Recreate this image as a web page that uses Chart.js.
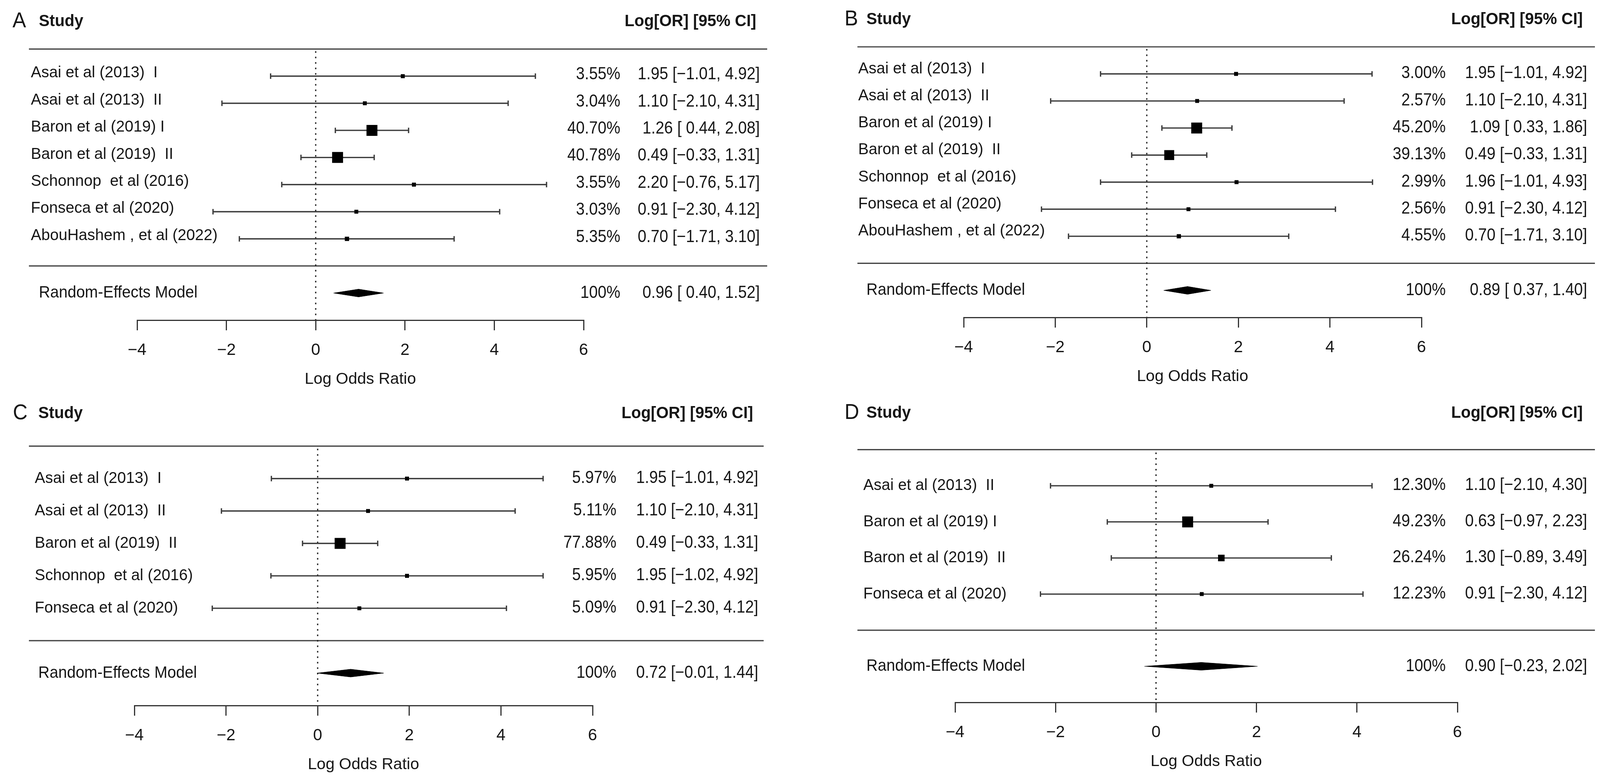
<!DOCTYPE html>
<html><head><meta charset="utf-8">
<script src="https://cdn.jsdelivr.net/npm/chart.js@4.4.1/dist/chart.umd.min.js"></script>
<style>
html,body{margin:0;padding:0;background:#fff;}
#wrap{position:relative;width:4113px;height:2008px;background:#fff;overflow:hidden;}
canvas{position:absolute;}
</style></head><body>
<div id="wrap">
<canvas id="cA" width="2056" height="1004" style="left:0px;top:0px;width:2056px;height:1004px"></canvas>
<canvas id="cB" width="2057" height="1004" style="left:2056px;top:0px;width:2057px;height:1004px"></canvas>
<canvas id="cC" width="2056" height="1004" style="left:0px;top:1004px;width:2056px;height:1004px"></canvas>
<canvas id="cD" width="2057" height="1004" style="left:2056px;top:1004px;width:2057px;height:1004px"></canvas>
</div>
<script>
// ---------- DATA ----------
const tickValues = [-4, -2, 0, 2, 4, 6];
const axisTitle = 'Log Odds Ratio';
const headerStudy = 'Study';
const headerEffect = 'Log[OR] [95% CI]';
const pooledLabel = 'Random-Effects Model';

const panelALetter = 'A';
const panelALabels = ['Asai et al (2013)  I', 'Asai et al (2013)  II', 'Baron et al (2019) I', 'Baron et al (2019)  II', 'Schonnop  et al (2016)', 'Fonseca et al (2020)', 'AbouHashem , et al (2022)'];
const panelAWeights = [3.55, 3.04, 40.70, 40.78, 3.55, 3.03, 5.35];
const panelAEst = [1.95, 1.10, 1.26, 0.49, 2.20, 0.91, 0.70];
const panelALower = [-1.01, -2.10, 0.44, -0.33, -0.76, -2.30, -1.71];
const panelAUpper = [4.92, 4.31, 2.08, 1.31, 5.17, 4.12, 3.10];
const panelAPooled = [0.96, 0.40, 1.52];

const panelBLetter = 'B';
const panelBLabels = ['Asai et al (2013)  I', 'Asai et al (2013)  II', 'Baron et al (2019) I', 'Baron et al (2019)  II', 'Schonnop  et al (2016)', 'Fonseca et al (2020)', 'AbouHashem , et al (2022)'];
const panelBWeights = [3.00, 2.57, 45.20, 39.13, 2.99, 2.56, 4.55];
const panelBEst = [1.95, 1.10, 1.09, 0.49, 1.96, 0.91, 0.70];
const panelBLower = [-1.01, -2.10, 0.33, -0.33, -1.01, -2.30, -1.71];
const panelBUpper = [4.92, 4.31, 1.86, 1.31, 4.93, 4.12, 3.10];
const panelBPooled = [0.89, 0.37, 1.40];

const panelCLetter = 'C';
const panelCLabels = ['Asai et al (2013)  I', 'Asai et al (2013)  II', 'Baron et al (2019)  II', 'Schonnop  et al (2016)', 'Fonseca et al (2020)'];
const panelCWeights = [5.97, 5.11, 77.88, 5.95, 5.09];
const panelCEst = [1.95, 1.10, 0.49, 1.95, 0.91];
const panelCLower = [-1.01, -2.10, -0.33, -1.02, -2.30];
const panelCUpper = [4.92, 4.31, 1.31, 4.92, 4.12];
const panelCPooled = [0.72, -0.01, 1.44];

const panelDLetter = 'D';
const panelDLabels = ['Asai et al (2013)  II', 'Baron et al (2019) I', 'Baron et al (2019)  II', 'Fonseca et al (2020)'];
const panelDWeights = [12.30, 49.23, 26.24, 12.23];
const panelDEst = [1.10, 0.63, 1.30, 0.91];
const panelDLower = [-2.10, -0.97, -0.89, -2.30];
const panelDUpper = [4.30, 2.23, 3.49, 4.12];
const panelDPooled = [0.90, -0.23, 2.02];

// ---------- LAYOUT (canvas-local pixels) ----------
const FONT = '"Liberation Sans", Arial, Helvetica, sans-serif';
const TXT = '#161616';
const LINE = '#3c3c3c';

const layoutA = {W:2056, H:1004, topY:125.6, axisY:820, left:351, right:1494, labelX:79, reX:99.5, pctR:1588, ciR:1945, ruleL:74, ruleR:1964, letterX:32, studyX:99.5, headR:1936, labOff:-8, numOff:-4};
const layoutB = {W:2057, H:1004, topY:120, axisY:813, left:411, right:1583, labelX:141, reX:162, pctR:1645, ciR:2007, ruleL:139, ruleR:2027, letterX:106, studyX:162, headR:1996, labOff:-13, numOff:-1};
const layoutC = {W:2056, H:1004, topY:138.7, axisY:803, left:344, right:1517, labelX:89, reX:98, pctR:1578, ciR:1941, ruleL:74, ruleR:1955, letterX:33, studyX:98, headR:1928, labOff:0, numOff:-1};
const layoutD = {W:2057, H:1004, topY:147.7, axisY:795, left:389, right:1675, labelX:154, reX:162, pctR:1645, ciR:2007, ruleL:139, ruleR:2027, letterX:106, studyX:162, headR:1996, labOff:0, numOff:-1};

function fmtNum(v){ return (v < 0 ? '\u2212' : '') + Math.abs(v).toFixed(2); }
function ciText(e, l, u){ return fmtNum(e) + ' [' + (l < 0 ? '' : ' ') + fmtNum(l) + ', ' + fmtNum(u) + ']'; }
function putText(ctx, s, x, y, align, sy) {
  ctx.save(); ctx.translate(x, y); ctx.scale(1, sy); ctx.textAlign = align; ctx.fillText(s, 0, 0); ctx.restore();
}

function buildPanel(id, letter, labels, weights, est, lower, upper, pooled, L) {
  const n = labels.length;
  const yMax = n + 3;
  const stepPx = (L.axisY - L.topY) / yMax;
  const datasets = [];
  // zero reference line
  datasets.push({data:[{x:0,y:0.08},{x:0,y:yMax}], showLine:true, borderColor:'#1e1e1e', borderWidth:3.2, borderDash:[4,10], pointRadius:0, order:10});
  // CI lines
  for (let i = 0; i < n; i++) {
    datasets.push({data:[{x:lower[i],y:i+1},{x:upper[i],y:i+1}], showLine:true, borderColor:LINE, borderWidth:3.4, pointRadius:0, order:5});
  }
  // caps
  const caps = [];
  for (let i = 0; i < n; i++) { caps.push({x:lower[i],y:i+1}); caps.push({x:upper[i],y:i+1}); }
  datasets.push({data:caps, showLine:false, pointStyle:'line', pointRotation:90, pointRadius:7, pointBorderWidth:3.4, pointBorderColor:LINE, pointBackgroundColor:LINE, order:4});
  // squares
  const wmin = Math.min(...weights), wmax = Math.max(...weights);
  datasets.push({data:est.map((v,i)=>({x:v,y:i+1})), showLine:false, pointStyle:'rect',
    pointRadius:weights.map(w => (10 + 18*(w-wmin)/(wmax-wmin)) / Math.SQRT2),
    pointBackgroundColor:'#000', pointBorderColor:'#000', pointBorderWidth:0, order:1});
  // pooled diamond
  const h = 10 / stepPx, r = n + 2;
  datasets.push({data:[{x:pooled[1],y:r},{x:pooled[0],y:r-h},{x:pooled[2],y:r},{x:pooled[0],y:r+h},{x:pooled[1],y:r}],
    showLine:true, fill:'shape', backgroundColor:'#000', borderColor:'#000', borderWidth:1, pointRadius:0, tension:0, order:1});

  const textPlugin = {
    id:'forestText'+id,
    beforeDatasetsDraw(chart) {
      const ctx = chart.ctx, ys = chart.scales.y;
      ctx.save();
      ctx.strokeStyle = '#444'; ctx.lineWidth = 3.2;
      for (const rr of [0, n+1]) {
        const py = ys.getPixelForValue(rr);
        ctx.beginPath(); ctx.moveTo(L.ruleL, py); ctx.lineTo(L.ruleR, py); ctx.stroke();
      }
      ctx.restore();
    },
    afterDraw(chart) {
      const ctx = chart.ctx, ys = chart.scales.y;
      ctx.save();
      ctx.fillStyle = TXT;
      ctx.textBaseline = 'middle';
      const hy = ys.getPixelForValue(-1) - 1;
      ctx.font = '52px ' + FONT; putText(ctx, letter, L.letterX, hy, 'left', 1.05);
      ctx.font = 'bold 41px ' + FONT; putText(ctx, headerStudy, L.studyX, hy, 'left', 1.05);
      putText(ctx, headerEffect, L.headR, hy, 'right', 1.05);
      ctx.font = '40px ' + FONT;
      for (let i = 0; i < n; i++) {
        const py = ys.getPixelForValue(i+1);
        putText(ctx, labels[i], L.labelX, py + L.labOff, 'left', 1.02);
        putText(ctx, weights[i].toFixed(2) + '%', L.pctR, py + L.numOff, 'right', 1.1);
        putText(ctx, ciText(est[i], lower[i], upper[i]), L.ciR, py + L.numOff, 'right', 1.1);
      }
      const pr = ys.getPixelForValue(n+2);
      putText(ctx, pooledLabel, L.reX, pr, 'left', 1.05);
      putText(ctx, '100%', L.pctR, pr, 'right', 1.1);
      putText(ctx, ciText(pooled[0], pooled[1], pooled[2]), L.ciR, pr, 'right', 1.1);
      ctx.restore();
    }
  };

  return new Chart(document.getElementById(id), {
    type:'scatter',
    data:{datasets},
    plugins:[textPlugin],
    options:{
      responsive:false, animation:false, devicePixelRatio:1,
      layout:{padding:{left:L.left, right:L.W - L.right, top:L.topY, bottom:L.H - L.axisY - 178}},
      plugins:{legend:{display:false}, tooltip:{enabled:false}, title:{display:false}},
      elements:{line:{tension:0}},
      scales:{
        x:{type:'linear', min:-4, max:6, position:'bottom',
          afterBuildTicks:(s)=>{ s.ticks = tickValues.map(v=>({value:v})); },
          ticks:{font:{family:FONT, size:42}, color:TXT, padding:26, autoSkip:false, maxRotation:0,
            callback:(v)=> (v < 0 ? '\u2212' : '') + Math.abs(v)},
          grid:{drawOnChartArea:false, drawTicks:true, tickLength:26, color:'#333', lineWidth:3},
          border:{display:true, color:'#333', width:3},
          title:{display:true, text:axisTitle, font:{family:FONT, size:41}, color:TXT, padding:{top:0, bottom:1.4}},
          afterFit:(s)=>{ s.height = 178; }
        },
        y:{type:'linear', min:0, max:yMax, reverse:true, display:false}
      }
    }
  });
}

buildPanel('cA', panelALetter, panelALabels, panelAWeights, panelAEst, panelALower, panelAUpper, panelAPooled, layoutA);
buildPanel('cB', panelBLetter, panelBLabels, panelBWeights, panelBEst, panelBLower, panelBUpper, panelBPooled, layoutB);
buildPanel('cC', panelCLetter, panelCLabels, panelCWeights, panelCEst, panelCLower, panelCUpper, panelCPooled, layoutC);
buildPanel('cD', panelDLetter, panelDLabels, panelDWeights, panelDEst, panelDLower, panelDUpper, panelDPooled, layoutD);
</script>
</body></html>
